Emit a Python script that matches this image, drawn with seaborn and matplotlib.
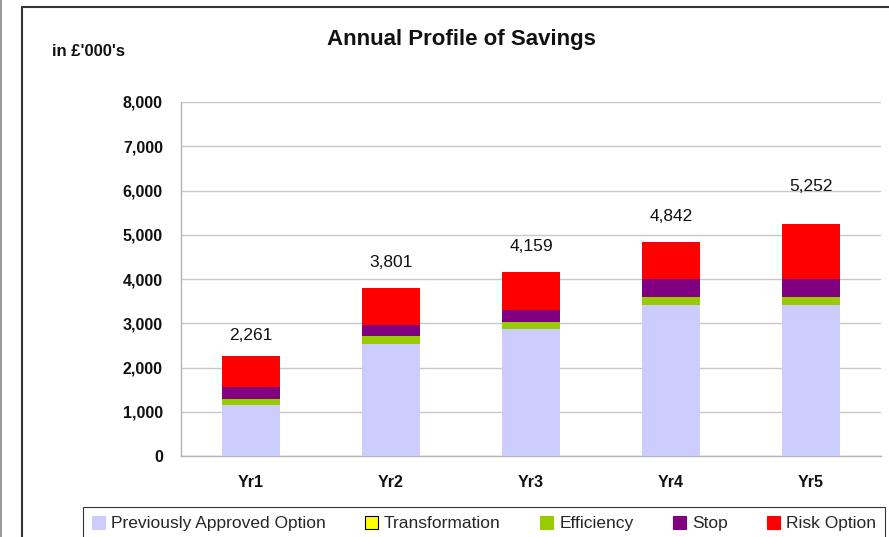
import matplotlib
matplotlib.use("Agg")
import matplotlib.pyplot as plt
from matplotlib.lines import Line2D
from matplotlib.patches import Patch
import numpy as np
import pandas as pd
import seaborn as sns

# Savings by year, in £'000s
years = ["Yr1", "Yr2", "Yr3", "Yr4", "Yr5"]
previously_approved = [1160, 2540, 2860, 3420, 3420]
transformation = [0, 0, 0, 0, 0]
efficiency = [130, 180, 160, 180, 180]
stop = [270, 230, 270, 410, 410]
risk_option = [701, 851, 869, 832, 1242]

series_names = ["Previously Approved Option", "Transformation", "Efficiency", "Stop", "Risk Option"]
series_values = [previously_approved, transformation, efficiency, stop, risk_option]
series_colors = ["#CCCCFF", "#FFFF00", "#99CC00", "#800080", "#FF0000"]

sns.set_theme(style="white")
plt.rcParams["font.family"] = ["Liberation Sans", "DejaVu Sans"]

fig = plt.figure(figsize=(8.89, 5.37), dpi=100)
ax = fig.add_axes([181 / 889, 1 - 456 / 537, (881 - 181) / 889, (456 - 102) / 537])

# Stacked bars: draw cumulative totals from the top layer down
df = pd.DataFrame({"year": years})
cum = np.zeros(len(years))
cums = []
for vals in series_values:
    cum = cum + np.array(vals, dtype=float)
    cums.append(cum.copy())
for name, color, c in reversed(list(zip(series_names, series_colors, cums))):
    df["v"] = c
    sns.barplot(data=df, x="year", y="v", color=color, width=0.41,
                saturation=1, linewidth=0, edgecolor="none", ax=ax, zorder=3)

totals = cums[-1]
label_offsets = [9, 13, 13, 13, 21]
for i, t in enumerate(totals):
    ax.annotate(f"{int(round(t)):,}", (i, t), xytext=(0, label_offsets[i]),
                textcoords="offset points", ha="center", va="bottom",
                fontsize=12.5, color="#111111")

ax.set_ylim(0, 8000)
ax.set_xlim(-0.5, 4.5)
ax.set_yticks(np.arange(0, 8001, 1000))
ax.yaxis.set_major_formatter(matplotlib.ticker.FuncFormatter(lambda v, p: f"{int(v):,}"))
ax.set_xlabel("")
ax.set_ylabel("")
ax.grid(axis="y", color="#c8c8c8", linewidth=1.0, zorder=0)
ax.set_axisbelow(True)
for s in ["top", "right"]:
    ax.spines[s].set_visible(False)
for s in ["left", "bottom"]:
    ax.spines[s].set_color("#b4b4b4")
    ax.spines[s].set_linewidth(1.0)

ax.tick_params(axis="y", which="major", length=5, width=1, color="#b4b4b4",
               direction="out", pad=8, labelsize=11.5)
ax.tick_params(axis="x", which="major", length=0, pad=14, labelsize=11.5)
ax.set_xticks(np.arange(-0.5, 5, 1.0), minor=True)
ax.tick_params(axis="x", which="minor", length=5, width=1, color="#b4b4b4", direction="out")
for lbl in ax.get_yticklabels() + ax.get_xticklabels():
    lbl.set_fontweight("bold")
    lbl.set_color("#111111")

fig.text(461 / 889, 1 - 39 / 537, "Annual Profile of Savings", ha="center", va="center",
         fontsize=16, fontweight="bold", color="#111111")
fig.text(52 / 889, 1 - 52 / 537, "in £'000's", ha="left", va="center",
         fontsize=12, fontweight="bold", color="#111111")

handles = []
for name, color in zip(series_names, series_colors):
    ec = "#000000" if name == "Transformation" else color
    handles.append(Patch(facecolor=color, edgecolor=ec, linewidth=0.8, label=name))
leg = fig.legend(handles=handles, loc="lower left", ncol=5, mode="expand",
                 bbox_to_anchor=(83 / 889, -3 / 537, (885 - 83) / 889, 36 / 537),
                 frameon=True, fancybox=False, fontsize=12.5, handlelength=0.75,
                 handleheight=0.75, handletextpad=0.35, borderpad=0.5,
                 borderaxespad=0)
leg.get_frame().set_edgecolor("#000000")
leg.get_frame().set_linewidth(0.8)

# Surrounding frame lines
fig.add_artist(Line2D([0.5 / 889, 0.5 / 889], [0, 1], transform=fig.transFigure,
                      color="#888888", linewidth=1.2))
fig.add_artist(Line2D([22 / 889, 22 / 889], [0, 1 - 7 / 537], transform=fig.transFigure,
                      color="#333333", linewidth=1.5))
fig.add_artist(Line2D([22 / 889, 1], [1 - 7 / 537, 1 - 7 / 537], transform=fig.transFigure,
                      color="#333333", linewidth=1.5))

fig.savefig("out.png", dpi=100)
